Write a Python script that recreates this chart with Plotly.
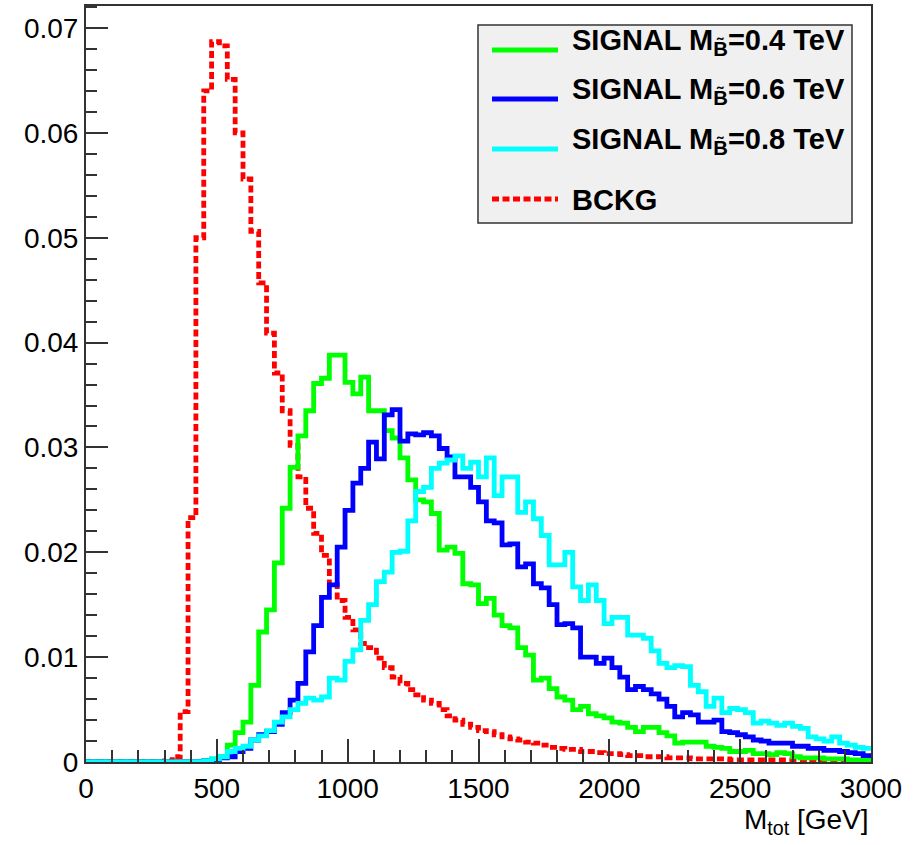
import numpy as np
import plotly.graph_objects as go

# ---- data: 100 bins of 30 GeV from 0 to 3000 GeV ----
bin_edges = [30 * i for i in range(101)]

signal_04 = [0]*15 + [
    0.0001, 0.0003, 0.0005, 0.0016, 0.0028, 0.0038, 0.0073, 0.0124, 0.0145, 0.0190,
    0.0242, 0.0281, 0.0311, 0.0335, 0.0361, 0.0366, 0.0388, 0.0388, 0.0362, 0.0351,
    0.0367, 0.0335, 0.0335, 0.0316, 0.0309, 0.0290, 0.0269, 0.0250, 0.0248, 0.0237,
    0.0202, 0.0205, 0.0199, 0.0170, 0.0169, 0.0151, 0.0156, 0.0140, 0.0130, 0.0128,
    0.0109, 0.0102, 0.0078, 0.0080, 0.0070, 0.0062, 0.0059, 0.0050, 0.0053, 0.0046,
    0.0044, 0.0042, 0.0038, 0.0037, 0.0033, 0.0029, 0.0033, 0.0033, 0.0028, 0.0025,
    0.0018, 0.0019, 0.0019, 0.0019, 0.0015, 0.0014, 0.0013, 0.0010, 0.0010, 0.0011,
    0.0008, 0.0008, 0.0007, 0.0009, 0.0008, 0.0005, 0.0004, 0.0004, 0.0004, 0.0003,
    0.0003, 0.0003, 0.0002, 0.0002, 0.0002]

signal_06 = [0]*15 + [
    0.0001, 0.0002, 0.0004, 0.0005, 0.0010, 0.0013, 0.0021, 0.0026, 0.0029, 0.0036,
    0.0047, 0.0059, 0.0075, 0.0105, 0.0130, 0.0157, 0.0169, 0.0205, 0.0240, 0.0266,
    0.0280, 0.0305, 0.0289, 0.0331, 0.0336, 0.0306, 0.0313, 0.0312, 0.0314, 0.0311,
    0.0299, 0.0291, 0.0272, 0.0272, 0.0262, 0.0248, 0.0230, 0.0228, 0.0207, 0.0208,
    0.0186, 0.0189, 0.0170, 0.0166, 0.0150, 0.0131, 0.0132, 0.0128, 0.0100, 0.0100,
    0.0094, 0.0099, 0.0090, 0.0081, 0.0069, 0.0072, 0.0069, 0.0065, 0.0060, 0.0053,
    0.0043, 0.0047, 0.0045, 0.0038, 0.0038, 0.0040, 0.0029, 0.0028, 0.0026, 0.0024,
    0.0021, 0.0020, 0.0018, 0.0018, 0.0018, 0.0015, 0.0015, 0.0013, 0.0013, 0.0011,
    0.0011, 0.0010, 0.0009, 0.0008, 0.0006]

signal_08 = [0]*15 + [
    0.0001, 0.0003, 0.0005, 0.0010, 0.0013, 0.0015, 0.0021, 0.0025, 0.0030, 0.0038,
    0.0043, 0.0050, 0.0056, 0.0061, 0.0059, 0.0062, 0.0080, 0.0078, 0.0096, 0.0107,
    0.0135, 0.0150, 0.0172, 0.0181, 0.0200, 0.0201, 0.0230, 0.0258, 0.0262, 0.0280,
    0.0285, 0.0288, 0.0292, 0.0280, 0.0286, 0.0272, 0.0290, 0.0254, 0.0272, 0.0272,
    0.0238, 0.0248, 0.0232, 0.0216, 0.0188, 0.0188, 0.0200, 0.0167, 0.0154, 0.0169,
    0.0154, 0.0132, 0.0138, 0.0138, 0.0121, 0.0121, 0.0118, 0.0106, 0.0094, 0.0090,
    0.0092, 0.0091, 0.0073, 0.0067, 0.0053, 0.0061, 0.0047, 0.0051, 0.0050, 0.0047,
    0.0037, 0.0039, 0.0037, 0.0035, 0.0037, 0.0034, 0.0032, 0.0024, 0.0022, 0.0020,
    0.0024, 0.0018, 0.0016, 0.0014, 0.0013]

background = [0]*10 + [
    0.0001, 0.0005, 0.0048, 0.0233, 0.0500, 0.0640, 0.0687, 0.0683, 0.0651, 0.0600,
    0.0556, 0.0506, 0.0457, 0.0409, 0.0371, 0.0335, 0.0302, 0.0272, 0.0242, 0.0218,
    0.0197, 0.0169, 0.0154, 0.0138, 0.0126, 0.0113, 0.0109, 0.0099, 0.0090, 0.0081,
    0.0075, 0.0069, 0.0064, 0.0059, 0.0056, 0.0050, 0.0044, 0.0040, 0.0036, 0.0033,
    0.0030, 0.0029, 0.0026, 0.0024, 0.0022, 0.0021, 0.0019, 0.0018, 0.0016, 0.0014,
    0.0013, 0.0012, 0.0012, 0.0010, 0.0010, 0.0009, 0.0008, 0.0008, 0.0007, 0.0006,
    0.0006, 0.0005, 0.0005, 0.0005, 0.0004, 0.0004, 0.0004, 0.0003, 0.0003, 0.0003,
    0.0003, 0.0003, 0.0002, 0.0002, 0.0002, 0.0002, 0.0002, 0.0002, 0.0002, 0.0002,
    0.0002, 0.0002, 0.0001, 0.0001, 0.0001, 0.0001, 0.0001, 0.0001, 0.0001, 0.0001]

series_names = ["SIGNAL M<sub>B\u0303</sub>=0.4 TeV",
                "SIGNAL M<sub>B\u0303</sub>=0.6 TeV",
                "SIGNAL M<sub>B\u0303</sub>=0.8 TeV",
                "BCKG"]
series_values = [signal_04, signal_06, signal_08, background]
series_colors = ["#00ff00", "#0000ff", "#00ffff", "#ff0000"]
series_dash = ["solid", "solid", "solid", "7px,3.5px"]

x_ticks = [0, 500, 1000, 1500, 2000, 2500, 3000]
y_ticks = [0, 0.01, 0.02, 0.03, 0.04, 0.05, 0.06, 0.07]
y_labels = ["0", "0.01", "0.02", "0.03", "0.04", "0.05", "0.06", "0.07"]

FONT = "Liberation Sans, Arial, Helvetica, sans-serif"

fig = go.Figure()
draw_order = [3, 0, 1, 2]
for k in draw_order:
    vals = list(series_values[k])
    fig.add_trace(go.Scatter(
        x=bin_edges, y=vals + [vals[-1]],
        mode="lines", line=dict(shape="hv", color=series_colors[k], width=4.8,
                                dash=series_dash[k]),
        name=series_names[k], showlegend=False, hoverinfo="skip"))

W, H = 923, 845
L, R, T, B = 86, 52, 6, 83
pw, ph = W - L - R, H - T - B


def px(x):
    return (x - L) / pw


def py(y):
    return (H - B - y) / ph


shapes = []
annotations = []
shapes.append(dict(type="rect", xref="paper", yref="paper",
                   x0=px(478), x1=px(852), y0=py(223), y1=py(25),
                   fillcolor="#f0f0f0", line=dict(color="#333333", width=1.5), layer="above"))
row_y = [50, 99, 149, 199]
text_y = [42, 91, 141, 200]
for k in range(4):
    shapes.append(dict(type="line", xref="paper", yref="paper",
                       x0=px(492), x1=px(558), y0=py(row_y[k]), y1=py(row_y[k]),
                       line=dict(color=series_colors[k], width=4.8, dash=series_dash[k]),
                       layer="above"))
    annotations.append(dict(xref="paper", yref="paper", x=px(570), y=py(text_y[k]),
                            xanchor="left", yanchor="middle", showarrow=False,
                            text="<b>" + series_names[k] + "</b>",
                            font=dict(family=FONT, size=29, color="black")))

annotations.append(dict(xref="paper", yref="paper", x=1.0, y=py(802),
                        xanchor="right", yanchor="top", showarrow=False,
                        text="M<sub>tot</sub> [GeV]",
                        font=dict(family=FONT, size=28, color="black")))

fig.update_layout(
    width=W, height=H,
    margin=dict(l=L, r=R, t=T, b=B, autoexpand=False),
    paper_bgcolor="white", plot_bgcolor="white",
    showlegend=False,
    shapes=shapes, annotations=annotations,
    font=dict(family=FONT, size=28, color="black"),
    xaxis=dict(range=[0, 3000], tickvals=x_ticks, ticktext=[str(v) for v in x_ticks],
               automargin=False,
               ticks="inside", ticklen=23, tickwidth=1.5, tickcolor="#333333",
               showline=True, linecolor="#333333", linewidth=2, mirror=True,
               showgrid=False, zeroline=False,
               tickfont=dict(family=FONT, size=28, color="black"),
               minor=dict(dtick=100, tick0=0, ticks="inside", ticklen=12,
                          tickwidth=1.5, tickcolor="#333333", showgrid=False)),
    yaxis=dict(range=[0, 0.0721], tickvals=y_ticks, ticktext=y_labels,
               automargin=False,
               ticks="inside", ticklen=22, tickwidth=1.5, tickcolor="#333333",
               showline=True, linecolor="#333333", linewidth=2, mirror=True,
               showgrid=False, zeroline=False,
               tickfont=dict(family=FONT, size=28, color="black"),
               minor=dict(dtick=0.002, tick0=0, ticks="inside", ticklen=11,
                          tickwidth=1.5, tickcolor="#333333", showgrid=False)),
)

fig.write_html("out.html", config={"displayModeBar": False},
               post_script="document.body.style.margin='0';document.body.style.padding='0';")
